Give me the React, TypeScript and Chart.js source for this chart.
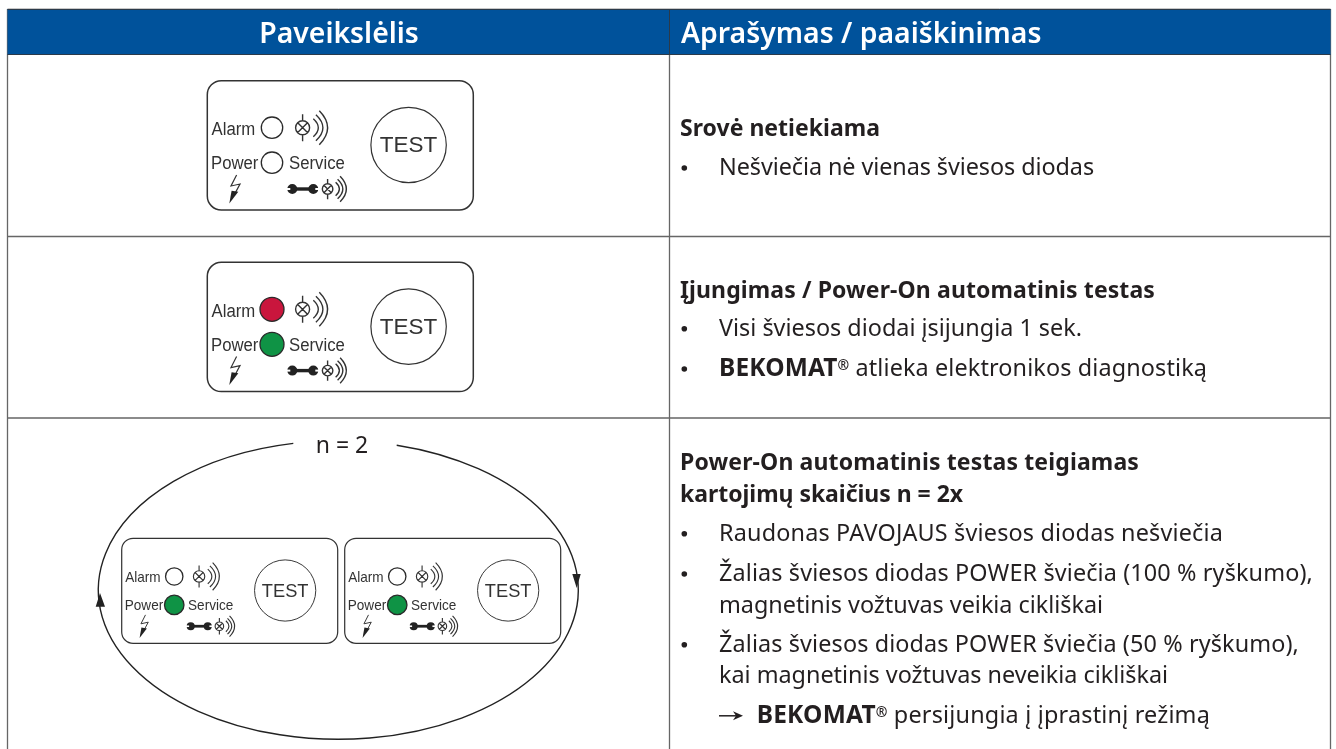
import React, { useEffect, useRef } from "react";
import { Chart, registerables } from "chart.js";

Chart.register(...registerables);

// ---------- content ----------
const headerLeft = "Paveikslėlis";
const headerRight = "Aprašymas / paaiškinimas";
const cycleLabel = "n = 2";
const panelLabels = ["Alarm", "Power", "Service", "TEST"];
const brand = "BEKOMAT";

type Seg = { t: string; b?: boolean; sup?: boolean };
const row1Lines: Seg[][] = [
  [{ t: "Srovė netiekiama", b: true }],
  [{ t: "Nešviečia nė vienas šviesos diodas" }],
];
const row2Lines: Seg[][] = [
  [{ t: "Įjungimas / Power-On automatinis testas", b: true }],
  [{ t: "Visi šviesos diodai įsijungia 1 sek." }],
  [{ t: brand, b: true }, { t: "®", b: true, sup: true }, { t: " atlieka elektronikos diagnostiką" }],
];
const row3Lines: Seg[][] = [
  [{ t: "Power-On automatinis testas teigiamas", b: true }],
  [{ t: "kartojimų skaičius n = 2x", b: true }],
  [{ t: "Raudonas PAVOJAUS šviesos diodas nešviečia" }],
  [{ t: "Žalias šviesos diodas POWER šviečia (100 % ryškumo)," }],
  [{ t: "magnetinis vožtuvas veikia cikliškai" }],
  [{ t: "Žalias šviesos diodas POWER šviečia (50 % ryškumo)," }],
  [{ t: "kai magnetinis vožtuvas neveikia cikliškai" }],
  [{ t: brand, b: true }, { t: "®", b: true, sup: true }, { t: " persijungia į įprastinį režimą" }],
];

// LED states per panel, in panel order: alarm, power
const ledAlarm = ["off", "red", "off", "off"];
const ledPower = ["off", "green", "green", "ring"];

// ---------- layout ----------
const W = 1336;
const H = 749;
const BLUE = "#00529b";
const INK = "#231f20";
const RULE = "#666666";
const SANS = '"Noto Sans", sans-serif';
const HELV = '"Liberation Sans", Arial, sans-serif';
const LEFT = 7.5;
const RIGHT = 1330.5;
const MID = 669;

const panelX = [207.3, 207.3, 121.7, 344.7];
const panelY = [80.7, 262.3, 538.3, 538.3];
const panelS = [1, 1, 0.812, 0.812];
const PW = 266;
const PH = 129.3;

const rows: { lines: Seg[][]; base: number[]; bullet: boolean[]; x: number[]; end: number[] }[] = [
  { lines: row1Lines, base: [136, 175], bullet: [false, true], x: [680, 719], end: [880, 1094] },
  {
    lines: row2Lines,
    base: [298.3, 335.7, 376],
    bullet: [false, true, true],
    x: [680, 719, 719],
    end: [1155, 1082, 1207],
  },
  {
    lines: row3Lines,
    base: [470, 501.7, 540.7, 581, 612.7, 651.7, 683.3, 723.3],
    bullet: [false, false, true, true, false, true, false, false],
    x: [680, 680, 719, 719, 719, 719, 719, 756.7],
    end: [1139, 963, 1223, 1313, 1103, 1299, 1168, 1210],
  },
];

function horn(c: CanvasRenderingContext2D, cx: number, cy: number, k: number) {
  c.beginPath();
  c.arc(cx, cy, 7 * k, 0, Math.PI * 2);
  c.moveTo(cx - 4.9 * k, cy - 4.9 * k);
  c.lineTo(cx + 4.9 * k, cy + 4.9 * k);
  c.moveTo(cx + 4.9 * k, cy - 4.9 * k);
  c.lineTo(cx - 4.9 * k, cy + 4.9 * k);
  c.moveTo(cx, cy - 13.5 * k);
  c.lineTo(cx, cy - 7 * k);
  c.moveTo(cx, cy + 7 * k);
  c.lineTo(cx, cy + 13.5 * k);
  for (const [s, d, h] of [
    [10.7, 5, 9],
    [13.3, 7, 13],
    [16.7, 8.3, 17],
  ]) {
    c.moveTo(cx + s * k, cy - h * k);
    c.quadraticCurveTo(cx + (s + 2 * d) * k, cy, cx + s * k, cy + h * k);
  }
  c.stroke();
}

function condensedLabel(c: CanvasRenderingContext2D, t: string, x: number, y: number) {
  c.save();
  c.translate(x, y);
  c.scale(0.93, 1);
  c.fillText(t, 0, 0);
  c.restore();
}

function drawPanel(c: CanvasRenderingContext2D, x: number, y: number, s: number) {
  c.save();
  c.translate(x, y);
  c.scale(s, s);
  c.strokeStyle = "#333333";
  c.lineWidth = 1.5;
  c.beginPath();
  c.roundRect(0, 0, PW, PH, 14);
  c.stroke();

  c.fillStyle = "#333333";
  c.textBaseline = "alphabetic";
  c.textAlign = "left";
  c.font = `18px ${HELV}`;
  condensedLabel(c, panelLabels[0], 4.3, 54.3);
  condensedLabel(c, panelLabels[1], 3.7, 88.7);
  condensedLabel(c, panelLabels[2], 81.7, 88.7);

  c.lineWidth = 1.2;
  c.beginPath();
  c.arc(201.3, 64.3, 37.7, 0, Math.PI * 2);
  c.stroke();
  c.textAlign = "center";
  c.font = `22.5px ${HELV}`;
  c.fillText(panelLabels[3], 201.3, 71.7);

  c.lineWidth = 1.4;
  horn(c, 95.3, 47, 1);
  horn(c, 120.3, 108.3, 0.75);

  // wrench
  c.fillStyle = "#222222";
  c.fillRect(84, 106.6, 24, 3.4);
  c.beginPath();
  c.arc(85, 108.3, 5, 0, Math.PI * 2);
  c.arc(106, 108.3, 5, 0, Math.PI * 2);
  c.fill();
  c.fillStyle = "#ffffff";
  c.fillRect(79, 107.3, 4, 2);
  c.fillRect(108, 107.3, 4, 2);

  // lightning
  c.strokeStyle = "#333333";
  c.lineWidth = 1.2;
  c.beginPath();
  c.moveTo(29.3, 94.3);
  c.lineTo(23.7, 105.3);
  c.lineTo(32.7, 103.3);
  c.lineTo(27.7, 112.7);
  c.stroke();
  c.fillStyle = "#222222";
  c.beginPath();
  c.moveTo(22, 122.7);
  c.lineTo(31, 111);
  c.lineTo(24.3, 110);
  c.closePath();
  c.fill();
  c.restore();
}

function segFont(s: Seg) {
  const weight = s.b ? "700" : "400";
  const size = s.sup ? 14 : s.t === brand ? 24.5 : s.b ? 23 : 23.4;
  return `${weight} ${size}px ${SANS}`;
}

function segDraw(c: CanvasRenderingContext2D, segs: Seg[], x: number, y: number, end: number) {
  let natural = 0;
  let chars = 0;
  for (const s of segs) {
    c.font = segFont(s);
    natural += c.measureText(s.t).width;
    chars += s.t.length;
  }
  const spacing = (end - x - natural) / chars;
  let cx = x;
  (c as any).letterSpacing = `${spacing}px`;
  for (const s of segs) {
    c.font = segFont(s);
    c.fillText(s.t, cx, s.sup ? y - 6 : y);
    cx += c.measureText(s.t).width;
  }
  (c as any).letterSpacing = "0px";
}

const diagramPlugin = {
  id: "diagram",
  beforeDatasetsDraw(chart: any) {
    const c: CanvasRenderingContext2D = chart.ctx;
    const X = (v: number) => chart.scales.x.getPixelForValue(v);
    const Y = (v: number) => chart.scales.y.getPixelForValue(v);
    c.save();
    c.fillStyle = "#ffffff";
    c.fillRect(0, 0, W, H);

    // rules and outer borders
    c.strokeStyle = RULE;
    c.lineWidth = 1.3;
    c.beginPath();
    for (const ry of [236.5, 418]) {
      c.moveTo(X(LEFT), Y(ry));
      c.lineTo(X(RIGHT), Y(ry));
    }
    for (const rx of [LEFT, MID + 0.5, RIGHT]) {
      c.moveTo(X(rx), Y(9));
      c.lineTo(X(rx), Y(H));
    }
    c.stroke();
    c.lineWidth = 1;
    c.strokeStyle = "#c8c8c8";
    c.beginPath();
    c.moveTo(X(LEFT), Y(8.5));
    c.lineTo(X(RIGHT), Y(8.5));
    c.stroke();

    // header band
    c.fillStyle = BLUE;
    c.fillRect(X(LEFT), Y(9), X(RIGHT) - X(LEFT), Y(55) - Y(9));
    c.strokeStyle = "#2b3a4a";
    c.beginPath();
    c.moveTo(X(LEFT), Y(9.5));
    c.lineTo(X(RIGHT), Y(9.5));
    c.moveTo(X(LEFT), Y(54.5));
    c.lineTo(X(RIGHT), Y(54.5));
    c.moveTo(X(MID + 0.5), Y(9));
    c.lineTo(X(MID + 0.5), Y(55));
    c.stroke();

    // header text
    c.fillStyle = "#ffffff";
    c.textBaseline = "alphabetic";
    c.font = `600 28.4px ${SANS}`;
    c.textAlign = "center";
    c.fillText(headerLeft, 339, 43.3);
    c.textAlign = "left";
    c.fillText(headerRight, 681, 43.3);

    // body text
    c.fillStyle = INK;
    for (const r of rows) {
      r.lines.forEach((segs, i) => {
        segDraw(c, segs, r.x[i], r.base[i], r.end[i]);
        if (r.bullet[i]) {
          c.beginPath();
          c.arc(684.3, r.base[i] - 7, 2.8, 0, Math.PI * 2);
          c.fill();
        }
      });
    }
    // arrow before the last line
    const ay = rows[2].base[7] - 7.5;
    c.strokeStyle = INK;
    c.lineWidth = 1.5;
    c.beginPath();
    c.moveTo(719, ay);
    c.lineTo(738, ay);
    c.stroke();
    c.beginPath();
    c.moveTo(743, ay);
    c.lineTo(733, ay - 4.5);
    c.lineTo(736, ay);
    c.lineTo(733, ay + 4.5);
    c.closePath();
    c.fill();

    // cycle ellipse
    c.font = `400 23px ${SANS}`;
    c.fillText(cycleLabel, 315.7, 452.7);
    c.strokeStyle = "#222222";
    c.lineWidth = 1.4;
    c.beginPath();
    c.ellipse(X(338.3), Y(590), 240, 149.3, 0, -1.325, Math.PI * 2 - 1.7594);
    c.stroke();
    c.fillStyle = "#222222";
    c.beginPath();
    c.moveTo(100, 593);
    c.lineTo(95.7, 606.7);
    c.lineTo(105, 606.7);
    c.closePath();
    c.moveTo(576.7, 588);
    c.lineTo(572.3, 574);
    c.lineTo(580.7, 574);
    c.closePath();
    c.fill();

    panelX.forEach((px, i) => drawPanel(c, X(px), Y(panelY[i]), panelS[i]));
    c.restore();
  },
};

const ledFill: Record<string, string> = {
  off: "#ffffff",
  red: "#c9163d",
  green: "#0f9345",
  ring: "#0f9345",
};

const ledPoints = [
  ...ledAlarm.map((state, i) => ({
    x: panelX[i] + 64.7 * panelS[i],
    y: panelY[i] + 47 * panelS[i],
    state,
    s: panelS[i],
    big: state !== "off",
  })),
  ...ledPower.map((state, i) => ({
    x: panelX[i] + 64.7 * panelS[i],
    y: panelY[i] + 82 * panelS[i],
    state,
    s: panelS[i],
    big: state !== "off",
  })),
];

export default function App() {
  const ref = useRef<HTMLCanvasElement>(null);
  useEffect(() => {
    const chart = new Chart(ref.current!, {
      type: "scatter",
      data: {
        datasets: [
          {
            data: ledPoints.map((p) => ({ x: p.x, y: p.y })),
            pointRadius: ledPoints.map((p) => (p.big ? 12 : 10.7) * p.s),
            pointHoverRadius: ledPoints.map((p) => (p.big ? 12 : 10.7) * p.s),
            pointBackgroundColor: ledPoints.map((p) => ledFill[p.state]),
            pointBorderColor: "#2a2a2a",
            pointBorderWidth: 1.3,
            clip: false,
          } as any,
          {
            data: ledPoints.filter((p) => p.state === "ring").map((p) => ({ x: p.x, y: p.y })),
            pointRadius: 4.7,
            pointBackgroundColor: "#ffffff",
            pointBorderWidth: 0,
            clip: false,
          } as any,
        ],
      },
      options: {
        animation: false,
        responsive: false,
        layout: { padding: 0, autoPadding: false },
        events: [],
        plugins: { legend: { display: false }, tooltip: { enabled: false } },
        scales: {
          x: { type: "linear", min: 0, max: W, display: false },
          y: { type: "linear", min: 0, max: H, reverse: true, display: false },
        },
      },
      plugins: [diagramPlugin],
    });
    return () => chart.destroy();
  }, []);
  return (
    <canvas
      ref={ref}
      width={W}
      height={H}
      style={{ position: "fixed", left: 0, top: 0, display: "block", width: W, height: H }}
    />
  );
}
